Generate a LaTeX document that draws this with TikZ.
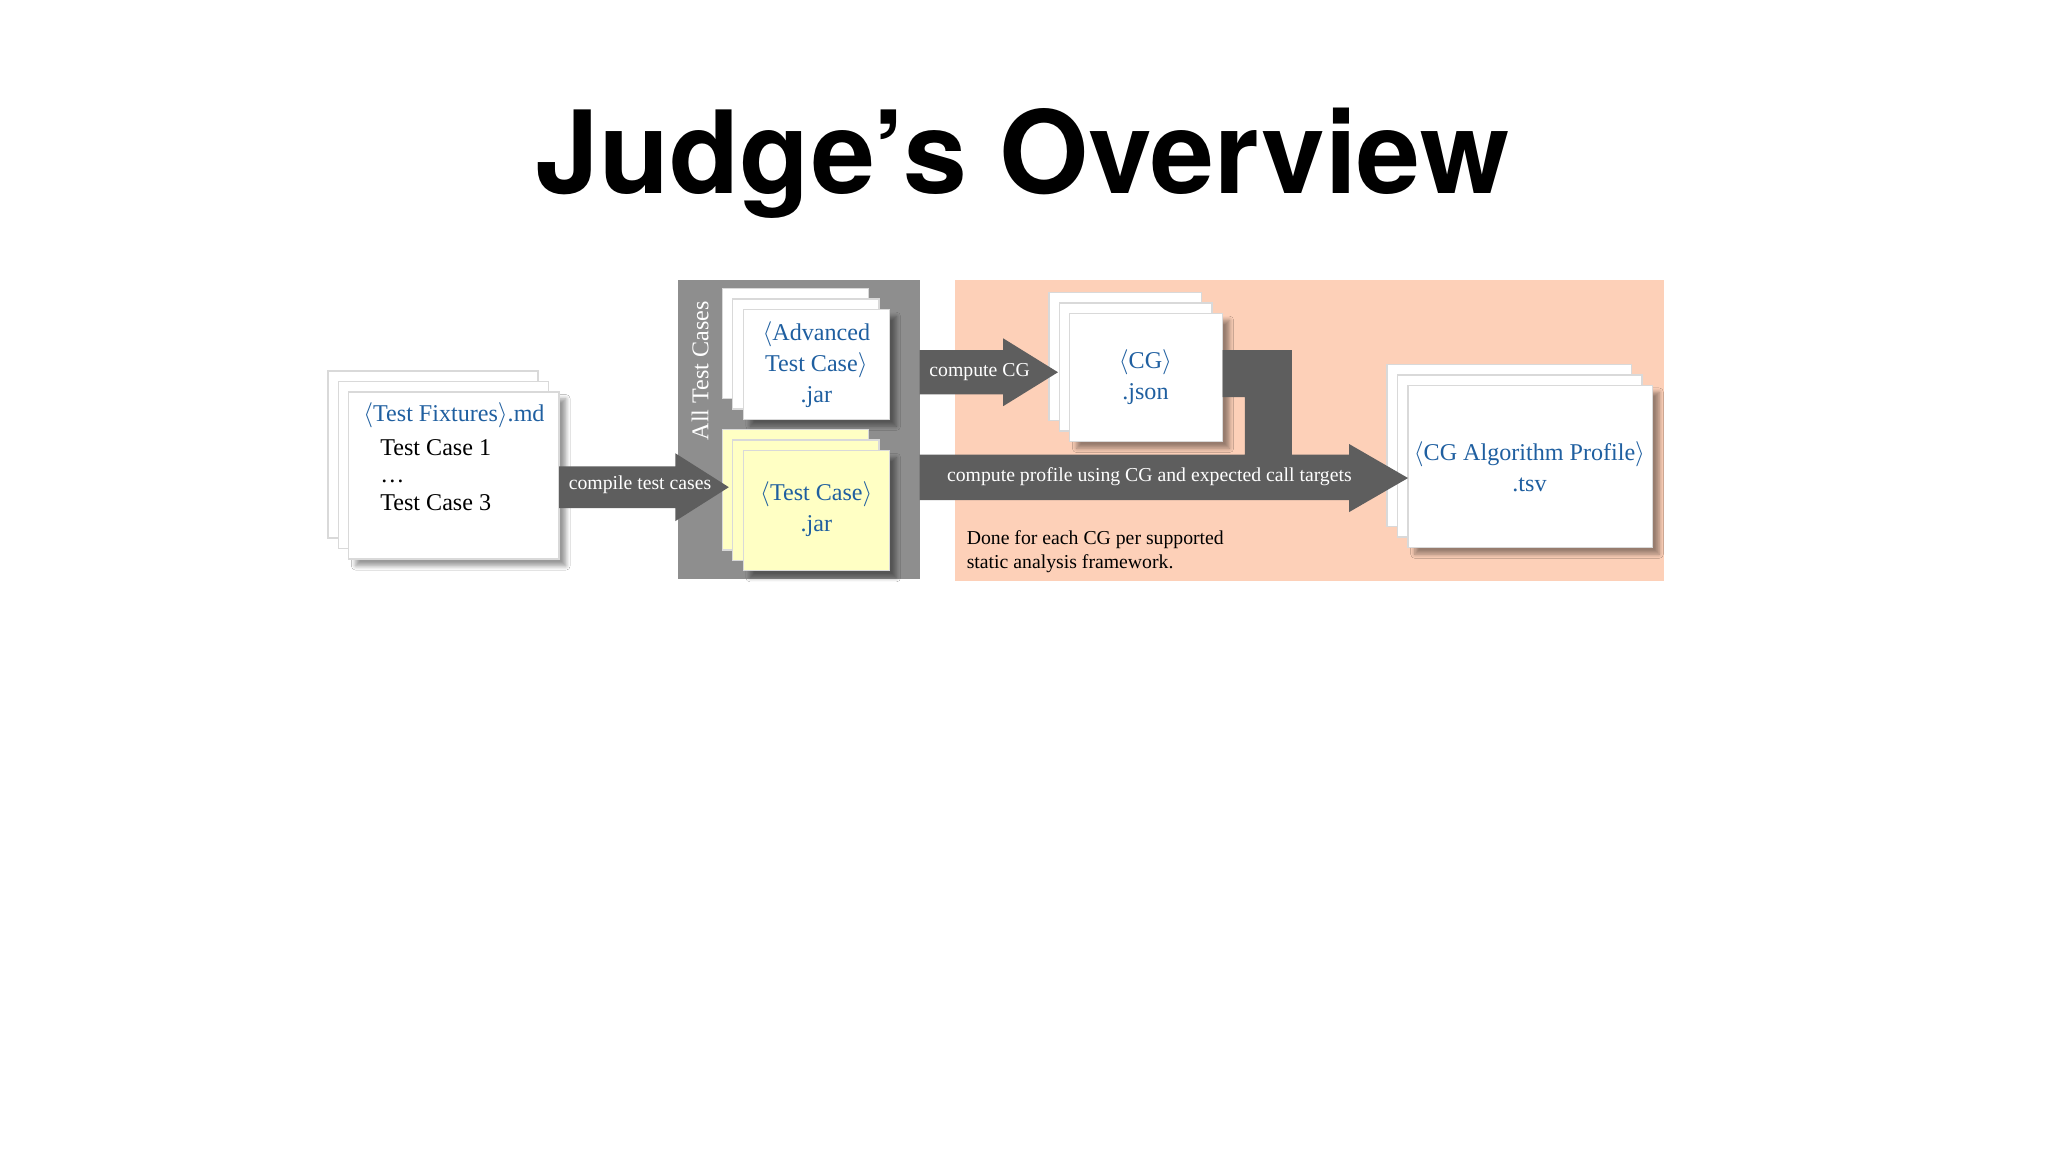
\documentclass[tikz,border=0pt]{standalone}
\usepackage{fontspec}
\setmainfont{Liberation Serif}
\newfontfamily\titlefont{TeX Gyre Heros}
\usetikzlibrary{shadows.blur}
\definecolor{arr}{HTML}{5E5E5E}
\definecolor{gbox}{HTML}{8E8E8E}
\definecolor{salmon}{HTML}{FDD0B8}
\definecolor{txtblue}{HTML}{1F5FA0}
\definecolor{paleyellow}{HTML}{FFFFC4}
\newcommand{\la}{$\langle$}
\newcommand{\ra}{$\rangle$}
\tikzset{
  page/.style={draw=black!15, line width=0.6pt, fill=white},
  frontpage/.style={page, blur shadow={shadow xshift=3pt, shadow yshift=-3pt, shadow blur steps=6, shadow opacity=40}},
  lbl/.style={font=\fontsize{8.6}{10}\selectfont, text=white},
  blu/.style={font=\fontsize{10.5}{13.5}\selectfont, text=txtblue, align=center},
}
\begin{document}
\begin{tikzpicture}[x=0.02cm,y=-0.02cm]
\useasboundingbox (0,0) rectangle (1568,882);
\fill[white] (0,0) rectangle (1568,882);
\node[font=\titlefont\bfseries\fontsize{50}{54}\selectfont] (title) at (783,125) {Judge’s Overview};
% boxes
\fill[gbox] (519,214) rectangle (704,443);
\fill[salmon] (731,214) rectangle (1274,445);
\node[lbl, rotate=90, font=\fontsize{10.5}{12}\selectfont] (all) at (536,284) {All Test Cases};
% left stack
\draw[page] (251,284) rectangle (412,412);
\draw[page] (259,292) rectangle (420,420);
\draw[frontpage] (267,300) rectangle (428,428);
\node[blu, anchor=west] (tf) at (272,318) {\la Test Fixtures\ra.md};
\node[anchor=north west, font=\fontsize{10.5}{14}\selectfont, align=left] (tc) at (285,330) {Test Case 1\\[-2pt]…\\[-2pt]Test Case 3};
% advanced stack
\draw[page] (553,221) rectangle (665,305);
\draw[page] (561,229) rectangle (673,313);
\draw[frontpage] (569,237) rectangle (681,321);
\node[blu] (adv) at (625,279) {\la Advanced\\Test Case\ra\\.jar};
% test case stack
\draw[page, fill=paleyellow] (553,329) rectangle (665,421);
\draw[page, fill=paleyellow] (561,337) rectangle (673,429);
\draw[frontpage, fill=paleyellow] (569,345) rectangle (681,437);
\node[blu] (tcj) at (625,390) {\la Test Case\ra\\.jar};
% CG stack
\draw[page] (803,224) rectangle (920,322);
\draw[page] (811,232) rectangle (928,330);
\draw[frontpage] (819,240) rectangle (936,338);
\node[blu] (cg) at (877,289) {\la CG\ra\\.json};
% profile stack
\draw[page] (1062,279) rectangle (1249,403);
\draw[page] (1070,287) rectangle (1257,411);
\draw[frontpage] (1078,295) rectangle (1265,419);
\node[blu] (prof) at (1171,357) {\la CG Algorithm Profile\ra\\.tsv};
% arrows
\fill[arr] (428,357) -- (517,357) -- (517,347) -- (558,373) -- (517,399) -- (517,389) -- (428,389) -- cycle;
\fill[arr] (704,268) -- (768,268) -- (768,259) -- (810,285) -- (768,311) -- (768,302) -- (704,302) -- cycle;
\fill[arr] (704,348) -- (953,348) -- (953,304) -- (936,304) -- (936,268) -- (989,268) -- (989,348) -- (1033,348) -- (1033,340) -- (1078,366) -- (1033,392) -- (1033,383) -- (704,383) -- cycle;
% labels
\node[lbl] (l1) at (490,371) {compile test cases};
\node[lbl] (l2) at (750,285) {compute CG};
\node[lbl] (l3) at (880,365) {compute profile using CG and expected call targets};
\node[anchor=north west, align=left, font=\fontsize{8.6}{10.5}\selectfont] (note) at (734,400) {Done for each CG per supported\\static analysis framework.};
\end{tikzpicture}
\end{document}
